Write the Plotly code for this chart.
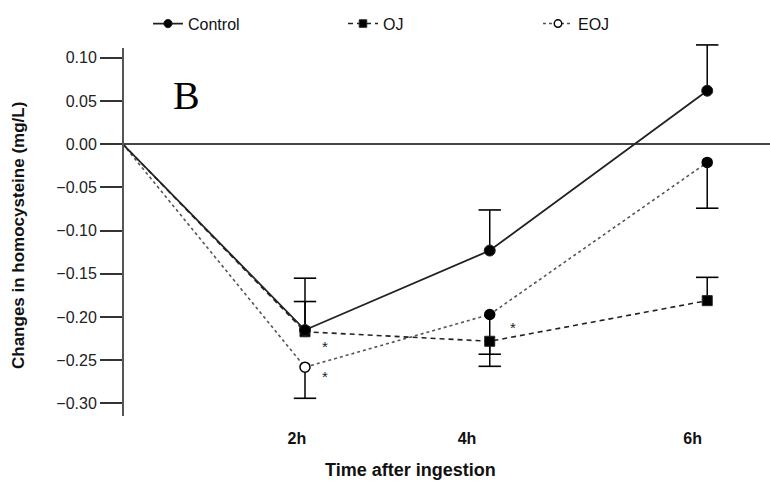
import plotly.graph_objects as go

# Time points (plot position in hours) and tick labels
x_pos = [0, 2.0, 4.03, 6.42]
tick_pos = [1.91, 3.78, 6.26]
tick_labels = ["2h", "4h", "6h"]

# Mean change in homocysteine (mg/L)
control = [0.0, -0.215, -0.123, 0.062]
oj = [0.0, -0.217, -0.228, -0.181]
eoj = [0.0, -0.258, -0.197, -0.021]

# One-sided error bars (upper for Control/OJ, lower for EOJ; OJ at 4h drawn below)
control_err_up = [0.0, 0.060, 0.047, 0.053]
control_err_down = [0.0, 0.0, 0.0, 0.0]
oj_err_up = [0.0, 0.035, 0.0, 0.027]
oj_err_down = [0.0, 0.0, 0.015, 0.0]
eoj_err_up = [0.0, 0.0, 0.0, 0.0]
eoj_err_down = [0.0, 0.036, 0.060, 0.053]

# EOJ marker fill per time point (open at 2h, filled afterwards)
eoj_fill = ["white", "white", "black", "black"]

y_ticks = [0.10, 0.05, 0.00, -0.05, -0.10, -0.15, -0.20, -0.25, -0.30]

FONT = "Liberation Sans, Arial, sans-serif"

fig = go.Figure()


def add_error_bars(y, up, down):
    """Error stems without caps, plus caps drawn as horizontal line markers."""
    fig.add_trace(go.Scatter(
        x=x_pos, y=y, mode="none", showlegend=False, hoverinfo="skip",
        error_y=dict(type="data", symmetric=False, array=up, arrayminus=down,
                     color="black", thickness=1.5, width=0),
    ))
    cx, cy = [], []
    for xi, yi, u, d in zip(x_pos, y, up, down):
        if u > 0:
            cx.append(xi)
            cy.append(yi + u)
        if d > 0:
            cx.append(xi)
            cy.append(yi - d)
    fig.add_trace(go.Scatter(
        x=cx, y=cy, mode="markers", showlegend=False, hoverinfo="skip",
        marker=dict(symbol="line-ew", size=16, color="black", opacity=1,
                    line=dict(color="black", width=1.6)),
    ))


add_error_bars(eoj, eoj_err_up, eoj_err_down)
add_error_bars(oj, oj_err_up, oj_err_down)
add_error_bars(control, control_err_up, control_err_down)

marker_sizes = [0, 10, 10, 10]

fig.add_trace(go.Scatter(
    x=x_pos, y=eoj, name="EOJ", mode="lines+markers",
    line=dict(color="#555555", width=1.6, dash="dot"),
    marker=dict(symbol="circle", size=marker_sizes, color=eoj_fill, opacity=1,
                line=dict(color="black", width=1.5)),
))
fig.add_trace(go.Scatter(
    x=x_pos, y=oj, name="OJ", mode="lines+markers",
    line=dict(color="#222222", width=1.6, dash="5px,4px"),
    marker=dict(symbol="square", size=marker_sizes, color="black", opacity=1),
))
fig.add_trace(go.Scatter(
    x=x_pos, y=control, name="Control", mode="lines+markers",
    line=dict(color="#222222", width=1.8),
    marker=dict(symbol="circle", size=[0, 11, 11, 11], color="black", opacity=1),
))

y_top, y_bottom = 0.1346, -0.3145

# Vertical y-axis line, starting just above the top tick
fig.add_shape(type="line", xref="paper", yref="paper",
              x0=0, x1=0, y0=0, y1=(416 - 48) / 388,
              line=dict(color="#555555", width=2))

# Significance markers
for ax, ay in [(2.22, -0.2346), (2.22, -0.2693), (4.29, -0.2115)]:
    fig.add_annotation(x=ax, y=ay, text="*", showarrow=False,
                       xanchor="center", yanchor="middle",
                       font=dict(family=FONT, size=15, color="#222"))

fig.add_annotation(xref="paper", yref="paper", x=(186 - 123) / 647, y=(416 - 95) / 388,
                   text="B", showarrow=False, xanchor="center", yanchor="middle",
                   font=dict(family="Liberation Serif, Times New Roman, serif",
                             size=40, color="black"))

fig.add_annotation(xref="paper", yref="paper", x=(18 - 123) / 647, y=(416 - 236) / 388,
                   text="<b>Changes in homocysteine (mg/L)</b>", textangle=-90,
                   showarrow=False, xanchor="center", yanchor="middle",
                   font=dict(family=FONT, size=17, color="#111"))

fig.add_annotation(xref="paper", yref="paper", x=(410 - 123) / 647, y=(416 - 470) / 388,
                   text="<b>Time after ingestion</b>", showarrow=False,
                   xanchor="center", yanchor="middle",
                   font=dict(family=FONT, size=18, color="#111"))

fig.update_layout(
    width=770, height=485,
    margin=dict(l=123, r=0, t=28, b=69),
    paper_bgcolor="white", plot_bgcolor="white",
    font=dict(family=FONT, color="#111"),
    showlegend=True,
    legend=dict(orientation="h", x=(148 - 123) / 647, y=1.055, xanchor="left", yanchor="top",
                traceorder="reversed", entrywidth=150, entrywidthmode="pixels",
                font=dict(size=16, color="#111"), bgcolor="rgba(0,0,0,0)"),
    xaxis=dict(range=[0, 647 / 91], showgrid=False, zeroline=False, showline=False,
               tickmode="array", tickvals=tick_pos,
               ticktext=[f"<b>{t}</b>" for t in tick_labels],
               ticks="outside", ticklen=8, tickcolor="rgba(0,0,0,0)",
               tickfont=dict(size=16, color="#111")),
    yaxis=dict(range=[y_bottom, y_top], showgrid=False, showline=False,
               zeroline=True, zerolinecolor="#444444", zerolinewidth=2,
               tickmode="array", tickvals=y_ticks, tickformat=".2f",
               ticks="outside", ticklen=22, tickwidth=2, tickcolor="#333",
               tickfont=dict(size=16, color="#222")),
)

fig.write_html("out.html")
